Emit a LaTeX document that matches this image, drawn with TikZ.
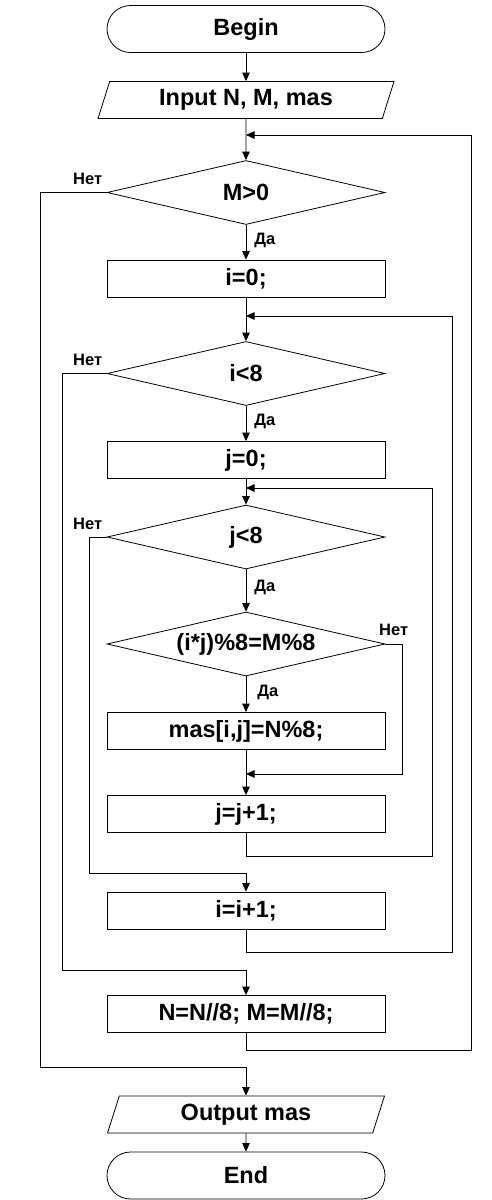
\documentclass[tikz,border=0pt]{standalone}
\usepackage{fontspec}
\setmainfont{Liberation Sans}
\usetikzlibrary{arrows.meta, positioning, shapes.geometric, calc}

\begin{document}
\begin{tikzpicture}[x=1pt,y=-1pt,line width=0.8pt,
  every node/.style={font=\fontsize{23.5}{28}\selectfont\bfseries},
  blk/.style={draw, rectangle, minimum width=278pt, minimum height=37pt, inner sep=0pt},
  term/.style={blk, minimum height=47pt, rounded corners=23.5pt},
  rhomb/.style={draw, diamond, aspect=4.3, minimum width=278pt, minimum height=64pt, inner sep=0pt},
  io/.style={draw, trapezium, trapezium left angle=61, trapezium right angle=119,
    trapezium stretches body, minimum height=37pt, inner sep=0pt},
  lbl/.style={font=\fontsize{16.5}{19}\selectfont\bfseries, inner sep=2pt},
  arr/.style={-{Triangle[length=8.5pt,width=7.5pt]}}]
  \fill[white] (0,0) rectangle (492,1200);
  \useasboundingbox (0,0) rectangle (492,1200);

  % blocks
  \node[term] (begin) at (246,29) {Begin};
  \node[io, minimum width=296pt] (inp) at (246,100) {Input N, M, mas};
  \node[rhomb] (m0) at (246,192.5) {M>0};
  \node[blk] (i0) at (246,278.5) {i=0;};
  \node[rhomb] (il8) at (246,373.5) {i<8};
  \node[blk] (j0) at (246,460) {j=0;};
  \node[rhomb] (jl8) at (246,537) {j<8};
  \node[rhomb] (cond) at (246,644) {(i*j)\%8=M\%8};
  \node[blk] (set) at (246,731) {mas[i,j]=N\%8;};
  \node[blk] (jinc) at (246,814) {j=j+1;};
  \node[blk] (iinc) at (246,910.5) {i=i+1;};
  \node[blk] (div) at (246,1014) {N=N//8; M=M//8;};
  \node[io, minimum width=277pt] (out) at (246,1114.5) {Output mas};
  \node[term] (end) at (246,1175.5) {End};

  % merge points
  \coordinate (mM) at (246,135);
  \coordinate (mI) at (246,316);
  \coordinate (mJ) at (246,488);
  \coordinate (mS) at (246,774);

  % main line
  \draw[arr] (begin) -- (inp);
  \draw[arr] (inp) -- (m0);
  \draw[arr] (m0) -- node[lbl,right,xshift=6pt,yshift=2pt]{Да} (i0);
  \draw[arr] (i0) -- (il8);
  \draw[arr] (il8) -- node[lbl,right,xshift=6pt,yshift=2pt]{Да} (j0);
  \draw[arr] (j0) -- (jl8);
  \draw[arr] (jl8) -- node[lbl,right,xshift=6pt,yshift=3pt]{Да} (cond);
  \draw[arr] (cond) -- node[lbl,right,xshift=9pt,yshift=2pt]{Да} (set);
  \draw[arr] (set) -- (jinc);
  \draw[arr] (out) -- (end);

  % loops back
  \draw[arr] (cond.east) -| node[lbl,pos=0.25,above,yshift=6pt]{Нет} (402,774) -- (mS);
  \draw[arr] (jinc.south) |- (432,856) |- (mJ);
  \draw[arr] (iinc.south) |- (452,952) |- (mI);
  \draw[arr] (div.south) |- (471,1050) |- (mM);

  % exits
  \draw[arr] (jl8.west) node[lbl,above left,xshift=-2pt,yshift=5pt]{Нет} -| (89,873) -| (iinc.north);
  \draw[arr] (il8.west) node[lbl,above left,xshift=-2pt,yshift=5pt]{Нет} -| (62,970) -| (div.north);
  \draw[arr] (m0.west) node[lbl,above left,xshift=-2pt,yshift=5pt]{Нет} -| (40,1067) -| (out.north);
\end{tikzpicture}
\end{document}
